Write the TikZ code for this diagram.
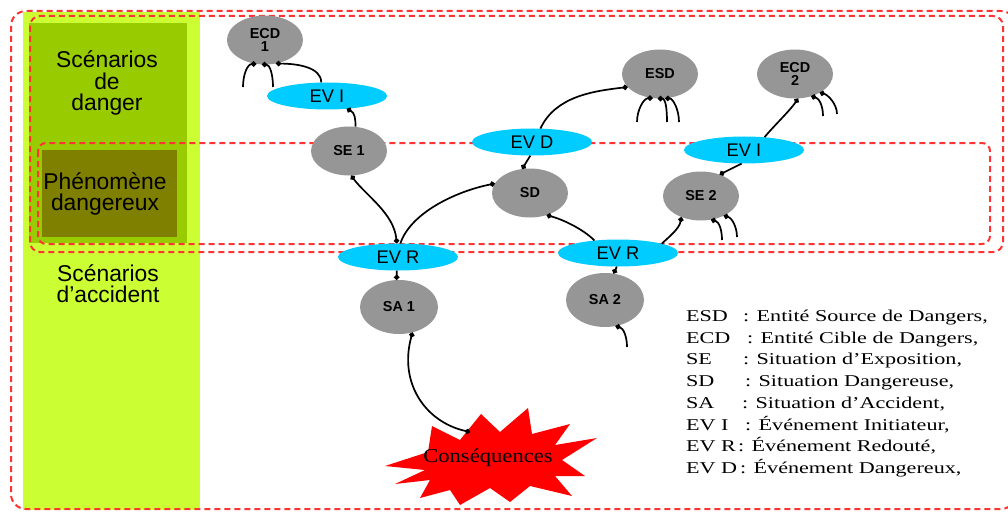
\documentclass[tikz,border=0pt]{standalone}
\usepackage{fontspec}
\setmainfont{Liberation Serif}
\setsansfont{Liberation Sans}
\usetikzlibrary{shapes.geometric,arrows.meta}
\definecolor{dashred}{RGB}{255,51,51}
\definecolor{colgreen}{RGB}{204,255,51}
\definecolor{boxgreen}{RGB}{153,204,0}
\definecolor{olive}{RGB}{128,128,0}
\definecolor{nodegray}{RGB}{150,150,150}
\definecolor{evcyan}{RGB}{0,204,255}
\definecolor{consred}{RGB}{255,0,0}
\tikzset{
  dashbox/.style={draw=dashred, line width=1mm, dash pattern=on 3mm off 2mm},
  graynode/.style={ellipse, fill=nodegray, minimum width=38mm, minimum height=24.5mm, inner sep=0pt, align=center,
     font=\sffamily\bfseries\fontsize{20.5}{19}\selectfont},
  sasize/.style={minimum width=39mm, minimum height=27mm},
  evnode/.style={ellipse, fill=evcyan, minimum width=60mm, minimum height=13.5mm, inner sep=0pt,
     font=\sffamily\fontsize{26}{26}\selectfont},
  sidelabel/.style={align=center, inner sep=0pt, font=\sffamily\fontsize{32.5}{30}\selectfont},
  legend/.style={anchor=base west, inner sep=0pt, font=\fontsize{23.5}{23.5}\selectfont},
  conn/.style={line width=0.85mm, black},
  connend/.style={conn, -{Circle[length=2.6mm]}},
  connstart/.style={conn, {Circle[length=2.6mm]}-},
  connboth/.style={conn, {Circle[length=2.6mm]}-{Circle[length=2.6mm]}},
}
\newcommand\legstretch[1]{\scalebox{1.34}[1]{#1}}
\begin{document}
\begin{tikzpicture}[x=0.5mm, y=-0.5mm]
\useasboundingbox (0,0) rectangle (1008,512);
\clip (0,0) rectangle (1008,512);
\fill[white] (0,0) rectangle (1008,512);
% green column
\fill[colgreen] (23,12) rectangle (200,510);
\fill[boxgreen] (29,23) rectangle (187,243);
\fill[olive] (42,150) rectangle (177,237);
% dashed frames
\draw[dashbox, rounded corners=7.5mm] (11,11) rectangle (1016,509);
\draw[dashbox, rounded corners=5mm] (30,16) rectangle (1003,252);
\draw[dashbox, rounded corners=4mm] (38,143) rectangle (990,244);
% side labels
\node[sidelabel] (lbldanger) at (107,83) {Scénarios\\de\\danger};
\node[sidelabel] (lblphen) at (105,194) {Phénomène\\dangereux};
\node[sidelabel] (lblacc) at (108,284) {Scénarios\\d'accident};
% consequences star
\fill[consred] (385,466) -- (428,452) -- (432,426) -- (460,440) -- (481,414) -- (500,432) -- (528,408) -- (532,434)
  -- (570,424) -- (555,445) -- (597,438) -- (562,460) -- (585,476) -- (555,476) -- (572,496) -- (530,486)
  -- (510,502) -- (490,488) -- (460,505) -- (450,490) -- (420,498) -- (430,480) -- (395,484) -- (425,470) -- cycle;
\node[inner sep=0pt, font=\fontsize{28}{28}\selectfont] (cons) at (488,458) {\scalebox{1.15}[1]{Conséquences}};
\coordinate (constop) at (470,432);
% nodes
\node[graynode] (ecd1) at (265,40) {ECD\\1};
\node[evnode] (evi1) at (327,96) {EV I};
\node[graynode] (se1) at (349,151) {SE 1};
\node[evnode] (evr1) at (398,257) {EV R};
\node[graynode, sasize] (sa1) at (399,307) {SA 1};
\node[graynode] (sd) at (530,193) {SD};
\node[evnode] (evd) at (532,142) {EV D};
\node[graynode] (esd) at (660,74) {ESD};
\node[graynode] (ecd2) at (795,74) {ECD\\2};
\node[evnode] (evi2) at (744,150) {EV I};
\node[graynode] (se2) at (701,196) {SE 2};
\node[evnode] (evr2) at (618,253) {EV R};
\node[graynode, sasize] (sa2) at (605,300) {SA 2};
% free ends
\coordinate (d1) at (243,87);
\coordinate (d2) at (273,87);
\coordinate (e1) at (637,122);
\coordinate (e2) at (667,122);
\coordinate (e3) at (679,122);
\coordinate (f1) at (823,116);
\coordinate (f2) at (837,114);
\coordinate (g1) at (722,240);
\coordinate (g2) at (737,237);
\coordinate (h1) at (627,347);
% connectors
\draw[connend] (evi1.113) .. controls +(0,-15) and +(22,0) .. (ecd1.-65);
\draw[connstart] (ecd1.-110) .. controls +(-9,0) and +(0,-12) .. (d1);
\draw[connstart] (ecd1.-97) .. controls +(8,0) and +(0,-12) .. (d2);
\draw[connstart] (evi1.-33) .. controls +(8,4) and +(0,-8) .. (se1.75);
\draw[connboth] (se1.-85) .. controls +(15,20) and +(-3,-30) .. (evr1.95);
\draw[connend] (evr1.80) .. controls +(10,-30) and +(-40,8) .. (sd.165);
\draw[connend] (evd.-97) -- (sd.108);
\draw[connend] (evd.58) .. controls +(15,-32) and +(-35,4) .. (esd.-158);
\draw[connstart] (esd.-107) .. controls +(-9,0) and +(0,-12) .. (e1);
\draw[connstart] (esd.-95) .. controls +(8,0) and +(0,-12) .. (e2);
\draw[connstart] (esd.-78) .. controls +(8,0) and +(0,-12) .. (e3);
\draw[connend] (evi2.32) .. controls +(10,-12) and +(-8,12) .. (ecd2.-83);
\draw[connstart] (ecd2.-54) .. controls +(8,2) and +(0,-10) .. (f1);
\draw[connstart] (ecd2.-37) .. controls +(8,2) and +(0,-10) .. (f2);
\draw[connend] (evi2.-100) -- (se2.49);
\draw[connstart] (se2.-67) .. controls +(8,2) and +(0,-10) .. (g1);
\draw[connstart] (se2.-41) .. controls +(8,2) and +(0,-10) .. (g2);
\draw[connstart] (se2.-133) .. controls +(-2,12) and +(6,-6) .. (evr2.12);
\draw[connend] (evr2.152) .. controls +(-12,-12) and +(15,4) .. (sd.-53);
\draw[connend] (evr2.-95) -- (sa2.72);
\draw[connstart] (sa2.-68) .. controls +(8,2) and +(0,-10) .. (h1);
\draw[connend] (evr1.-95) -- (sa1.95);
\draw[connboth] (sa1.-62) .. controls +(-14,50) and +(-45,-10) .. (constop);
% legend
\node[legend] (l1a) at (686,321) {\legstretch{ESD}};
\node[legend] (l1b) at (743,321) {\legstretch{: Entité Source de Dangers,}};
\node[legend] (l2a) at (686,343) {\legstretch{ECD}};
\node[legend] (l2b) at (747,343) {\legstretch{: Entité Cible de Dangers,}};
\node[legend] (l3a) at (686,364) {\legstretch{SE}};
\node[legend] (l3b) at (743,364) {\legstretch{: Situation d'Exposition,}};
\node[legend] (l4a) at (686,386) {\legstretch{SD}};
\node[legend] (l4b) at (745,386) {\legstretch{: Situation Dangereuse,}};
\node[legend] (l5a) at (686,408) {\legstretch{SA}};
\node[legend] (l5b) at (742,408) {\legstretch{: Situation d'Accident,}};
\node[legend] (l6a) at (686,430) {\legstretch{EV I}};
\node[legend] (l6b) at (745,430) {\legstretch{: Événement Initiateur,}};
\node[legend] (l7a) at (686,451) {\legstretch{EV R}};
\node[legend] (l7b) at (738,451) {\legstretch{: Événement Redouté,}};
\node[legend] (l8a) at (686,473) {\legstretch{EV D}};
\node[legend] (l8b) at (740,473) {\legstretch{: Événement Dangereux,}};
\end{tikzpicture}
\end{document}
